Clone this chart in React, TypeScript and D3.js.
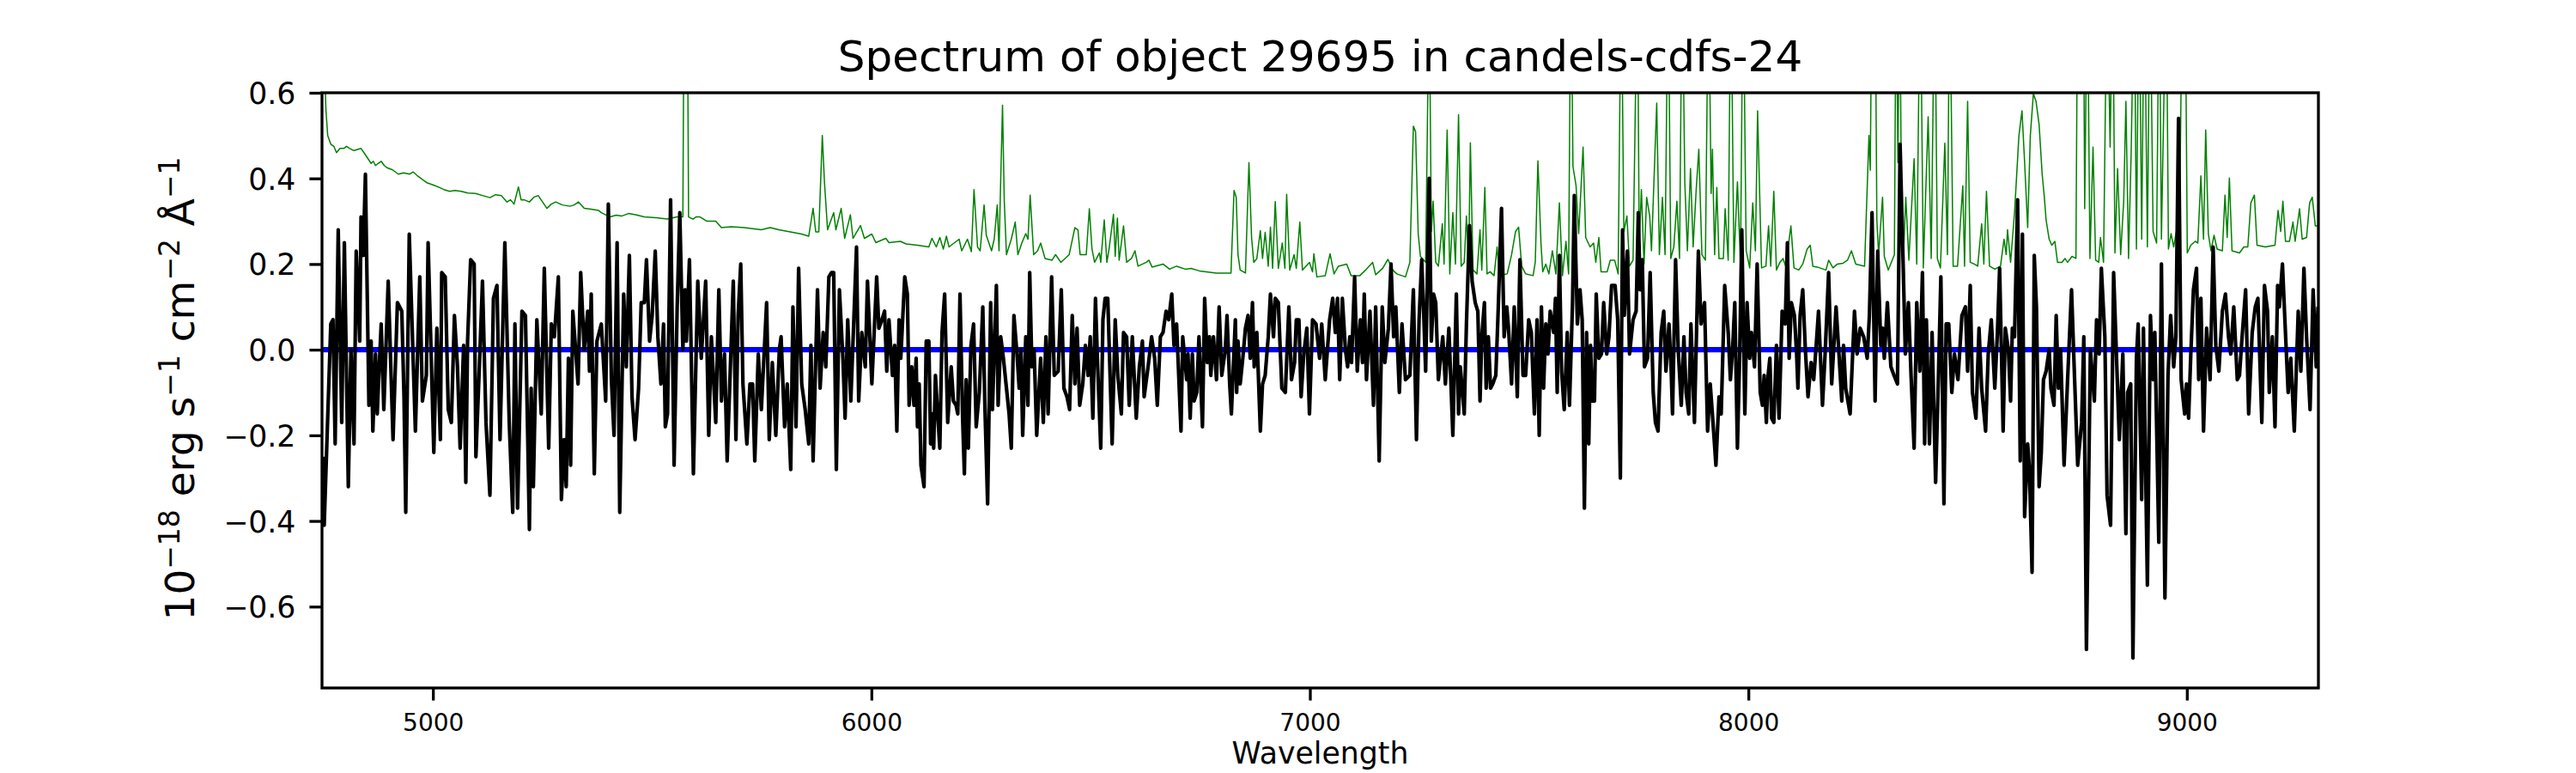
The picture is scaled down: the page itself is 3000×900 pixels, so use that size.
import { useEffect, useRef } from "react";
import * as d3 from "d3";

type Pt = [number, number];

// axis setup
const xDomain: [number, number] = [4747, 9300];
const yDomain: [number, number] = [-0.79, 0.6];
const xTicks = [5000, 6000, 7000, 8000, 9000];
const yTicks = [-0.6, -0.4, -0.2, 0.0, 0.2, 0.4, 0.6];

// object spectrum (black), wavelength in Angstrom, flux in 1e-18 erg/s/cm2/A
const fluxA: Pt[] = [
  [4749, -0.25], [4752, -0.41], [4767, 0.06], [4772, 0.07], [4777, -0.22], [4784, 0.28], [4792, -0.17], [4798, 0.25],
  [4807, -0.32], [4813, 0.0], [4820, -0.22], [4825, 0.23], [4833, 0.02], [4836, 0.31], [4841, 0.22], [4846, 0.41],
  [4854, -0.13], [4859, 0.02], [4863, -0.19], [4869, -0.01], [4873, -0.15], [4877, -0.05], [4882, 0.06], [4888, -0.14],
  [4898, 0.16], [4909, -0.21], [4919, 0.11], [4929, 0.09], [4934, -0.11], [4938, -0.38], [4946, 0.27], [4960, -0.19],
  [4970, 0.17], [4976, -0.12], [4985, -0.06], [4989, 0.25], [5002, -0.24], [5009, 0.05], [5017, -0.21], [5020, 0.18],
  [5028, 0.17], [5035, -0.14], [5042, -0.17], [5049, 0.08], [5056, -0.04], [5062, -0.23], [5070, 0.01], [5075, -0.31],
  [5079, 0.02], [5086, 0.21], [5094, 0.2], [5098, -0.25], [5107, -0.01], [5113, 0.16], [5121, -0.17], [5130, -0.34],
  [5138, 0.12], [5146, 0.15], [5153, -0.21], [5164, 0.25], [5174, -0.17], [5182, -0.38], [5187, 0.06], [5193, -0.37],
  [5203, 0.09], [5211, 0.08], [5220, -0.42], [5224, -0.09], [5229, -0.32], [5237, 0.07], [5247, -0.15], [5254, 0.19],
  [5264, -0.23], [5270, 0.06], [5277, 0.03], [5286, 0.17], [5293, -0.35], [5299, -0.21], [5304, -0.32], [5309, -0.02],
  [5314, -0.27], [5319, 0.09], [5331, -0.08], [5337, 0.18], [5345, 0.0], [5353, 0.09], [5357, -0.05], [5361, 0.13],
  [5368, -0.29], [5374, 0.02],
];

const fluxB: Pt[] = [
  [5384, 0.06], [5394, -0.12], [5400, 0.34], [5407, -0.07], [5413, -0.2], [5420, 0.25], [5426, -0.38], [5435, 0.13],
  [5441, -0.04], [5448, 0.22], [5454, -0.11], [5461, -0.21], [5469, -0.09], [5475, 0.11], [5482, 0.11], [5487, 0.21],
  [5494, 0.02], [5500, 0.08], [5507, 0.23], [5513, 0.03], [5520, -0.08], [5526, 0.06], [5530, -0.18], [5535, -0.15],
  [5542, 0.35], [5550, -0.27], [5557, 0.1], [5563, 0.32], [5570, 0.0], [5575, 0.14], [5578, 0.02], [5585, 0.21],
  [5594, -0.29], [5604, 0.16], [5612, -0.02], [5622, 0.16], [5629, -0.2], [5635, 0.03], [5645, -0.17], [5652, 0.14],
  [5658, -0.12], [5665, -0.01], [5671, -0.26], [5685, 0.16], [5691, -0.21], [5696, 0.08], [5702, 0.2], [5707, -0.08],
  [5716, -0.22], [5723, -0.08], [5729, -0.08], [5734, -0.26], [5742, -0.01], [5749, -0.14], [5761, 0.11], [5767, -0.21],
  [5774, -0.03], [5782, -0.2], [5790, 0.0], [5794, 0.03], [5802, -0.18], [5808, -0.08], [5816, -0.28], [5821, 0.1],
  [5828, -0.18], [5834, 0.19], [5841, -0.08], [5849, -0.14], [5857, -0.22], [5862, 0.01], [5867, -0.26], [5877, 0.14],
  [5883, -0.09], [5890, 0.04], [5896, -0.04], [5903, 0.17], [5909, 0.18], [5914, 0.18], [5920, -0.28], [5927, 0.14],
  [5935, -0.02], [5940, -0.16], [5946, 0.07], [5953, -0.12], [5966, 0.24], [5971, -0.12], [5978, 0.04], [5986, -0.04],
  [5991, 0.16], [6001, -0.08], [6012, 0.17], [6017, 0.05], [6024, 0.07], [6030, 0.09], [6035, -0.05],
];

const fluxC: Pt[] = [
  [6040, 0.07], [6048, -0.06], [6053, 0.01], [6058, -0.19], [6063, 0.07], [6067, -0.02], [6076, 0.17], [6082, 0.13],
  [6086, -0.13], [6092, -0.04], [6097, -0.13], [6102, -0.02], [6105, -0.18], [6109, -0.08], [6113, -0.27], [6120, -0.32],
  [6125, 0.02], [6131, 0.02], [6135, -0.22], [6139, -0.15], [6142, -0.23], [6146, -0.06], [6151, -0.15], [6156, -0.23],
  [6161, 0.04], [6167, 0.13], [6174, -0.17], [6182, -0.04], [6187, -0.12], [6193, -0.13], [6197, -0.15], [6202, 0.13],
  [6208, -0.16], [6212, -0.29], [6216, -0.07], [6221, -0.23], [6227, 0.01], [6233, 0.06], [6239, -0.18], [6246, -0.1],
  [6254, 0.1], [6259, -0.14], [6265, -0.36], [6272, 0.11], [6276, -0.14], [6285, 0.15], [6289, -0.13], [6295, 0.03],
  [6301, -0.02], [6308, -0.09], [6314, -0.15], [6319, -0.23], [6325, 0.08], [6332, -0.01], [6337, -0.09], [6341, 0.0],
  [6345, -0.2], [6352, 0.03], [6357, -0.13], [6361, 0.18], [6366, -0.04], [6371, 0.0], [6377, -0.2], [6386, -0.02],
  [6392, -0.17], [6398, 0.03], [6403, -0.15], [6411, 0.17], [6417, -0.06], [6426, -0.05], [6433, 0.14], [6439, -0.09],
  [6446, -0.11], [6452, -0.14], [6458, 0.08], [6464, -0.08], [6469, 0.05], [6475, -0.13], [6482, -0.08], [6488, 0.01],
  [6494, -0.06], [6499, 0.03], [6505, -0.16], [6511, 0.12], [6516, -0.04], [6523, -0.23], [6528, 0.07], [6533, 0.12],
  [6539, 0.12], [6549, -0.22], [6556, 0.07], [6562, -0.06], [6570, -0.15], [6575, 0.04], [6582, 0.03], [6588, -0.13],
  [6595, 0.03], [6604, -0.16], [6611, -0.04], [6618, 0.02], [6622, -0.11], [6631, -0.04], [6639, 0.03], [6646, -0.02],
  [6652, -0.13], [6659, 0.03], [6665, 0.04], [6672, 0.09], [6678, 0.07], [6685, 0.13], [6690, 0.01],
];

const fluxD: Pt[] = [
  [6696, 0.06], [6706, -0.19], [6710, 0.03], [6719, -0.07], [6722, -0.01], [6727, -0.16], [6732, -0.01], [6736, -0.12],
  [6742, -0.1], [6747, 0.03], [6755, -0.18], [6760, 0.12], [6766, -0.03], [6771, 0.03], [6774, -0.06], [6780, 0.03],
  [6787, -0.07], [6793, 0.1], [6799, -0.06], [6807, 0.0], [6811, 0.08], [6817, -0.08], [6821, -0.15], [6827, 0.0],
  [6830, 0.07], [6833, -0.1], [6836, 0.02], [6841, -0.08], [6847, -0.02], [6853, 0.05], [6859, 0.08], [6864, -0.02],
  [6869, 0.11], [6873, -0.04], [6879, 0.04], [6887, -0.19], [6892, -0.08], [6898, -0.06], [6905, 0.03], [6910, 0.13],
  [6917, 0.03], [6921, 0.12], [6928, 0.11], [6936, -0.09], [6944, -0.1], [6952, 0.1], [6958, -0.07], [6965, -0.03],
  [6969, 0.07], [6975, 0.07], [6980, -0.11], [6986, -0.01], [6993, 0.05], [6999, -0.15], [7006, 0.07], [7014, 0.06],
  [7022, -0.02], [7027, 0.06], [7035, -0.07], [7045, 0.07], [7052, 0.12], [7058, 0.04], [7063, 0.12], [7068, -0.07],
  [7074, 0.12], [7081, 0.0], [7086, -0.04], [7091, 0.03], [7095, -0.03], [7102, 0.17], [7108, -0.05], [7115, 0.07],
  [7120, -0.03], [7124, 0.13], [7129, -0.07], [7137, 0.09], [7145, -0.13], [7150, 0.1], [7158, -0.26], [7165, 0.1],
  [7171, -0.03], [7179, 0.05], [7185, 0.2], [7191, 0.03], [7196, 0.1], [7204, -0.1], [7210, 0.06], [7218, -0.07],
  [7228, -0.06], [7236, 0.14], [7243, -0.21], [7249, 0.07], [7255, 0.21], [7259, 0.1], [7264, -0.05], [7272, 0.4],
  [7277, 0.02], [7282, 0.13], [7287, 0.11], [7293, -0.07], [7303, 0.03], [7309, -0.08], [7317, 0.05], [7326, -0.2],
  [7334, 0.13], [7339, -0.15], [7343, -0.04], [7349, -0.11],
];

const fluxE: Pt[] = [
  [7352, -0.15], [7357, 0.06], [7364, 0.29], [7370, 0.16], [7377, 0.11], [7383, 0.09], [7388, -0.12], [7392, 0.03],
  [7398, 0.11], [7402, -0.09], [7407, 0.03], [7412, -0.09], [7417, -0.08], [7424, -0.06], [7429, 0.08], [7437, 0.33],
  [7443, 0.03], [7449, 0.1], [7453, 0.05], [7460, -0.08], [7466, 0.1], [7473, -0.11], [7479, 0.21], [7486, -0.06],
  [7492, -0.06], [7499, 0.07], [7505, 0.04], [7512, -0.15], [7518, 0.07], [7523, -0.2], [7528, 0.1], [7533, -0.09],
  [7538, 0.06], [7543, -0.01], [7548, 0.09], [7556, 0.04], [7560, 0.12], [7564, -0.1], [7569, 0.22], [7574, -0.05],
  [7580, -0.14], [7587, 0.04], [7592, -0.13], [7599, 0.11], [7603, 0.36], [7610, 0.06], [7616, 0.14], [7621, 0.07],
  [7626, -0.37], [7631, 0.04], [7636, -0.22], [7640, 0.01], [7644, -0.12], [7649, -0.12], [7653, 0.13], [7659, -0.02],
  [7665, -0.01], [7670, 0.11], [7677, -0.01], [7682, 0.03], [7688, 0.15], [7696, 0.15], [7702, 0.07], [7708, -0.3],
  [7713, 0.28], [7717, 0.08], [7724, 0.23], [7729, -0.01], [7737, 0.07], [7744, 0.09], [7749, 0.32], [7753, 0.14],
  [7758, 0.21], [7763, -0.04], [7770, -0.02], [7776, 0.18], [7783, -0.1], [7788, -0.17], [7794, -0.19], [7801, 0.04],
  [7807, 0.09], [7812, -0.05], [7819, 0.06], [7824, -0.05], [7827, -0.15], [7834, 0.21], [7840, 0.0], [7847, -0.13],
  [7853, 0.03], [7858, -0.1], [7864, -0.15], [7869, 0.06], [7877, -0.17], [7886, 0.23], [7892, 0.06], [7900, 0.11],
  [7907, -0.19], [7913, -0.08], [7920, -0.18], [7926, -0.27], [7933, -0.11], [7938, -0.15], [7946, 0.15], [7954, 0.04],
  [7959, -0.07], [7964, 0.0], [7969, 0.11], [7975, -0.23], [7980, -0.02], [7985, 0.28], [7992, -0.15], [7997, 0.11],
  [8003, -0.02],
];

const fluxF: Pt[] = [
  [8007, 0.04], [8014, -0.04], [8020, 0.2], [8027, -0.1], [8032, -0.13], [8036, -0.06], [8041, -0.17], [8045, -0.06],
  [8049, -0.02], [8053, -0.16], [8058, -0.17], [8064, 0.01], [8070, -0.16], [8077, 0.09], [8084, 0.06], [8089, 0.25],
  [8093, -0.02], [8098, 0.11], [8105, 0.08], [8110, -0.01], [8113, -0.09], [8118, 0.08], [8124, 0.14], [8130, 0.0],
  [8136, -0.11], [8143, -0.03], [8149, -0.07], [8156, 0.03], [8160, 0.09], [8169, -0.13], [8175, -0.01], [8183, 0.18],
  [8190, -0.08], [8200, 0.1], [8206, 0.0], [8213, -0.12], [8217, 0.01], [8222, -0.09], [8232, -0.15], [8242, 0.09],
  [8248, -0.01], [8255, 0.05], [8263, 0.03], [8271, -0.02], [8276, 0.08], [8282, 0.32], [8289, -0.12], [8295, 0.23],
  [8302, 0.01], [8306, 0.05], [8310, -0.02], [8317, 0.11], [8325, -0.04], [8332, -0.06], [8340, -0.08], [8346, 0.48],
  [8353, 0.2], [8358, -0.01], [8365, 0.11], [8371, -0.06], [8378, -0.23], [8384, 0.11], [8391, -0.05], [8397, 0.18],
  [8402, -0.22], [8406, 0.07], [8413, -0.22], [8419, 0.04], [8427, -0.31], [8433, -0.08], [8439, 0.17], [8446, -0.36],
  [8451, 0.06], [8457, 0.06], [8464, -0.1], [8470, -0.01], [8478, -0.07], [8487, 0.08], [8495, 0.1], [8500, -0.05],
  [8506, 0.15], [8511, -0.1], [8519, -0.16], [8526, 0.05], [8532, -0.09], [8541, -0.19], [8547, -0.01], [8554, 0.07],
  [8562, -0.09], [8568, 0.04], [8573, 0.19], [8581, -0.19], [8586, 0.05], [8593, 0.0], [8598, -0.12], [8602, 0.05],
  [8607, 0.03], [8614, 0.35], [8620, -0.26], [8625, 0.27], [8630, -0.39], [8637, -0.22], [8641, -0.28], [8647, -0.52],
  [8652, 0.22], [8657, 0.1],
];

const fluxG: Pt[] = [
  [8663, -0.32], [8668, -0.24], [8673, -0.07], [8679, -0.05], [8686, 0.0], [8690, -0.09], [8697, -0.13], [8702, 0.08],
  [8707, -0.09], [8712, 0.0], [8720, -0.27], [8728, -0.07], [8737, 0.14], [8743, -0.04], [8751, -0.27], [8760, -0.17],
  [8765, 0.03], [8771, -0.7], [8780, 0.0], [8789, -0.12], [8794, 0.07], [8800, -0.01], [8805, 0.19], [8813, 0.03],
  [8818, -0.34], [8826, -0.41], [8833, 0.18], [8846, -0.21], [8854, -0.01], [8861, -0.43], [8865, -0.1], [8872, -0.08],
  [8877, -0.72], [8885, -0.02], [8889, 0.06], [8897, -0.35], [8901, 0.05], [8910, -0.55], [8917, 0.08], [8923, -0.07],
  [8927, 0.04], [8936, -0.45], [8942, 0.2], [8950, -0.58], [8957, -0.06], [8963, 0.08], [8970, -0.04], [8975, 0.03],
  [8981, 0.54], [8987, -0.07], [8995, -0.15], [8999, -0.08], [9004, -0.16], [9009, -0.01], [9015, 0.14], [9022, 0.19],
  [9027, -0.07], [9032, 0.12], [9038, -0.19], [9045, 0.05], [9053, -0.07], [9060, 0.24], [9066, 0.01], [9073, -0.05],
  [9081, 0.09], [9088, 0.13], [9095, 0.03], [9100, -0.01], [9107, 0.1], [9115, -0.07], [9120, -0.06], [9126, 0.03],
  [9134, 0.14], [9141, -0.15], [9149, 0.04], [9156, 0.1], [9162, 0.12], [9171, -0.17], [9177, 0.15], [9184, 0.09],
  [9188, -0.1], [9195, 0.03], [9201, -0.18], [9207, 0.15], [9211, 0.1], [9218, 0.2], [9224, 0.06], [9231, -0.1],
  [9237, -0.02], [9245, -0.19], [9254, 0.09], [9260, -0.05], [9267, 0.19], [9273, 0.03], [9281, -0.14], [9288, 0.14],
  [9295, -0.04], [9299, 0.1],
];

// noise / sky spectrum (green)
const sigmaA: Pt[] = [
  [4748, 0.75], [4754, 0.62], [4756, 0.56], [4760, 0.5], [4767, 0.48], [4774, 0.475], [4780, 0.46], [4788, 0.47],
  [4797, 0.47], [4803, 0.475], [4810, 0.47], [4820, 0.465], [4836, 0.47], [4846, 0.455], [4859, 0.435], [4864, 0.44],
  [4869, 0.43], [4875, 0.435], [4882, 0.44], [4889, 0.43], [4895, 0.425], [4908, 0.42], [4921, 0.41], [4933, 0.413],
  [4947, 0.41], [4955, 0.415], [4966, 0.405], [4975, 0.398], [4986, 0.39], [5000, 0.385], [5012, 0.38], [5025, 0.374],
  [5038, 0.37], [5050, 0.372], [5064, 0.37], [5080, 0.366], [5097, 0.365], [5113, 0.36], [5130, 0.355], [5143, 0.362],
  [5156, 0.36], [5169, 0.345], [5177, 0.35], [5185, 0.34], [5195, 0.38], [5201, 0.35], [5208, 0.35], [5220, 0.345],
  [5230, 0.356], [5240, 0.36], [5250, 0.345], [5260, 0.33], [5270, 0.34], [5280, 0.345], [5295, 0.338], [5312, 0.335],
  [5322, 0.338], [5332, 0.345], [5345, 0.33], [5360, 0.328], [5378, 0.325],
];

const sigmaB: Pt[] = [
  [5384, 0.32], [5404, 0.31], [5418, 0.314], [5430, 0.312], [5446, 0.318], [5462, 0.315], [5482, 0.31], [5510, 0.308],
  [5534, 0.305], [5557, 0.31], [5570, 0.31], [5573, 0.9], [5580, 0.9], [5583, 0.31], [5593, 0.305], [5600, 0.31],
  [5609, 0.31], [5625, 0.3], [5645, 0.3], [5658, 0.285], [5680, 0.287], [5710, 0.285], [5749, 0.28], [5769, 0.285],
  [5789, 0.28], [5841, 0.27], [5857, 0.265], [5867, 0.33], [5873, 0.275], [5880, 0.275], [5888, 0.5], [5893, 0.39],
  [5900, 0.28], [5914, 0.32], [5919, 0.28], [5931, 0.33], [5939, 0.26], [5952, 0.315], [5958, 0.26], [5975, 0.29],
  [5984, 0.26], [6001, 0.27], [6010, 0.25], [6033, 0.26],
];

const sigmaC: Pt[] = [
  [6040, 0.25], [6066, 0.253], [6079, 0.247], [6105, 0.244], [6131, 0.24], [6138, 0.26], [6148, 0.24], [6156, 0.262],
  [6164, 0.235], [6171, 0.265], [6177, 0.24], [6200, 0.258], [6206, 0.231], [6219, 0.258], [6228, 0.229], [6234, 0.374],
  [6242, 0.24], [6248, 0.231], [6257, 0.338], [6262, 0.267], [6268, 0.249], [6274, 0.231], [6280, 0.258], [6287, 0.338],
  [6291, 0.231], [6299, 0.571], [6303, 0.347], [6308, 0.222], [6319, 0.258], [6328, 0.298], [6334, 0.222], [6343, 0.249],
  [6352, 0.271], [6357, 0.258], [6362, 0.361], [6370, 0.222], [6379, 0.231], [6386, 0.249], [6396, 0.213], [6412, 0.209],
  [6420, 0.222], [6432, 0.204], [6451, 0.222], [6464, 0.285], [6471, 0.28], [6476, 0.222], [6490, 0.222], [6497, 0.329],
  [6503, 0.235], [6509, 0.204], [6520, 0.226], [6523, 0.204], [6531, 0.303], [6537, 0.204], [6542, 0.235], [6552, 0.316],
  [6556, 0.218], [6561, 0.307], [6565, 0.209], [6575, 0.289], [6582, 0.204], [6593, 0.213], [6601, 0.231], [6608, 0.195],
  [6627, 0.204], [6633, 0.209], [6640, 0.193], [6665, 0.2], [6680, 0.188],
];

const sigmaD: Pt[] = [
  [6696, 0.195], [6716, 0.188], [6729, 0.19], [6748, 0.184], [6787, 0.179], [6820, 0.179], [6827, 0.372], [6832, 0.356],
  [6836, 0.222], [6841, 0.186], [6853, 0.179], [6861, 0.437], [6867, 0.262], [6872, 0.204], [6879, 0.213], [6887, 0.278],
  [6892, 0.213], [6898, 0.274], [6905, 0.195], [6910, 0.286], [6915, 0.19], [6921, 0.346], [6928, 0.19], [6937, 0.249],
  [6943, 0.19], [6947, 0.363], [6954, 0.186], [6964, 0.222], [6969, 0.19], [6977, 0.298], [6983, 0.186], [6999, 0.204],
  [7006, 0.182], [7009, 0.224], [7016, 0.17], [7035, 0.173], [7046, 0.224], [7055, 0.177], [7065, 0.195], [7084, 0.2],
  [7094, 0.173], [7114, 0.173], [7127, 0.186], [7143, 0.204], [7150, 0.175], [7166, 0.19], [7178, 0.211], [7189, 0.186],
  [7198, 0.177], [7218, 0.17], [7228, 0.204], [7236, 0.522], [7241, 0.509], [7247, 0.271], [7252, 0.218], [7264, 0.204],
  [7272, 0.85], [7277, 0.276], [7281, 0.347], [7287, 0.204], [7293, 0.195], [7302, 0.294], [7306, 0.2], [7313, 0.513],
  [7319, 0.177], [7326, 0.32], [7332, 0.2], [7339, 0.549], [7345, 0.195],
];

const sigmaE: Pt[] = [
  [7352, 0.204], [7357, 0.312], [7362, 0.195], [7366, 0.483], [7372, 0.186], [7381, 0.177], [7388, 0.28], [7392, 0.186],
  [7399, 0.379], [7404, 0.177], [7411, 0.182], [7420, 0.173], [7427, 0.24], [7432, 0.173], [7450, 0.177], [7460, 0.222],
  [7469, 0.276], [7476, 0.286], [7483, 0.195], [7492, 0.177], [7509, 0.173], [7514, 0.204], [7520, 0.441], [7527, 0.249],
  [7531, 0.182], [7538, 0.2], [7545, 0.177], [7553, 0.231], [7561, 0.177], [7569, 0.343], [7576, 0.173], [7584, 0.253],
  [7590, 0.177], [7595, 0.9], [7600, 0.428], [7607, 0.383], [7613, 0.271], [7623, 0.473], [7629, 0.262], [7639, 0.24],
  [7647, 0.249], [7652, 0.204], [7659, 0.262], [7664, 0.182], [7678, 0.182], [7685, 0.209], [7695, 0.209], [7703, 0.177],
  [7710, 0.9], [7716, 0.276], [7723, 0.312], [7729, 0.195], [7737, 0.209], [7747, 0.9], [7751, 0.244], [7756, 0.374],
  [7762, 0.2], [7768, 0.356], [7775, 0.312], [7779, 0.231], [7791, 0.576], [7797, 0.222], [7804, 0.356], [7810, 0.222],
  [7817, 0.9], [7823, 0.213], [7830, 0.24], [7837, 0.347], [7843, 0.213], [7849, 0.9], [7855, 0.392], [7861, 0.231],
  [7868, 0.423], [7874, 0.24], [7881, 0.374], [7887, 0.468], [7894, 0.222], [7902, 0.209], [7909, 0.9], [7915, 0.365],
  [7918, 0.468], [7923, 0.222], [7928, 0.379], [7933, 0.213], [7943, 0.213], [7947, 0.329], [7954, 0.209], [7960, 0.9],
  [7967, 0.204], [7975, 0.392], [7982, 0.2], [7988, 0.9], [7995, 0.231], [8003, 0.191], [8010, 0.343],
];

const sigmaF: Pt[] = [
  [8016, 0.231], [8021, 0.558], [8030, 0.191], [8040, 0.195], [8046, 0.289], [8051, 0.195], [8058, 0.37], [8064, 0.186],
  [8072, 0.204], [8079, 0.213], [8085, 0.195], [8097, 0.289], [8104, 0.191], [8115, 0.186], [8124, 0.2], [8134, 0.235],
  [8141, 0.244], [8147, 0.195], [8157, 0.193], [8177, 0.186], [8183, 0.209], [8193, 0.191], [8203, 0.2], [8216, 0.202],
  [8226, 0.209], [8235, 0.231], [8245, 0.2], [8265, 0.195], [8275, 0.5], [8278, 0.419], [8282, 0.9], [8286, 0.7],
  [8289, 0.9], [8293, 0.303], [8297, 0.222], [8306, 0.356], [8310, 0.218], [8319, 0.186], [8333, 0.222], [8337, 0.9],
  [8341, 0.437], [8345, 0.9], [8350, 0.222], [8353, 0.204], [8359, 0.356], [8366, 0.209], [8378, 0.446], [8384, 0.2],
  [8392, 0.9], [8399, 0.191], [8410, 0.544], [8417, 0.213], [8425, 0.9], [8431, 0.213], [8438, 0.191], [8448, 0.482],
  [8454, 0.222], [8459, 0.9], [8467, 0.195], [8477, 0.195], [8489, 0.383], [8493, 0.195], [8500, 0.58], [8506, 0.204],
  [8515, 0.2], [8523, 0.195], [8532, 0.294], [8537, 0.2], [8543, 0.37], [8550, 0.195], [8562, 0.188], [8575, 0.195],
  [8583, 0.258], [8588, 0.222], [8591, 0.28], [8598, 0.204], [8607, 0.32], [8617, 0.5], [8624, 0.558], [8630, 0.437],
  [8637, 0.285], [8643, 0.5], [8650, 0.598], [8656, 0.58], [8663, 0.526],
];

const sigmaG: Pt[] = [
  [8670, 0.41], [8675, 0.356], [8679, 0.303], [8686, 0.258], [8692, 0.244], [8699, 0.253], [8705, 0.204], [8715, 0.204],
  [8722, 0.213], [8728, 0.204], [8738, 0.218], [8747, 0.213], [8751, 0.9], [8758, 0.598], [8764, 0.9], [8767, 0.329],
  [8773, 0.9], [8779, 0.213], [8786, 0.473], [8792, 0.209], [8799, 0.204], [8803, 0.262], [8810, 0.204], [8818, 0.9],
  [8825, 0.473], [8831, 0.9], [8836, 0.226], [8842, 0.423], [8849, 0.222], [8856, 0.347], [8861, 0.58], [8867, 0.213],
  [8873, 0.459], [8880, 0.9], [8885, 0.235], [8891, 0.9], [8897, 0.258], [8903, 0.9], [8910, 0.24], [8916, 0.9],
  [8923, 0.276], [8931, 0.249], [8937, 0.9], [8942, 0.258], [8953, 0.9], [8958, 0.235], [8964, 0.271], [8970, 0.24],
  [8976, 0.276], [8983, 0.267], [8990, 0.9], [8996, 0.9], [9001, 0.226], [9009, 0.244], [9019, 0.253], [9025, 0.249],
  [9032, 0.406], [9038, 0.258], [9043, 0.513], [9049, 0.271], [9055, 0.231], [9062, 0.267], [9069, 0.235], [9081, 0.231],
  [9087, 0.361], [9092, 0.262], [9097, 0.401], [9103, 0.231], [9120, 0.226], [9130, 0.24], [9139, 0.24], [9146, 0.343],
  [9154, 0.361], [9160, 0.244], [9179, 0.24], [9201, 0.244], [9208, 0.325], [9214, 0.276], [9219, 0.347], [9225, 0.253],
  [9234, 0.253], [9242, 0.298], [9247, 0.253], [9257, 0.329], [9263, 0.258], [9273, 0.262], [9280, 0.343], [9286, 0.356],
  [9293, 0.289], [9299, 0.289],
];

const flux = [...fluxA, ...fluxB, ...fluxC, ...fluxD, ...fluxE, ...fluxF, ...fluxG];
const sigma = [...sigmaA, ...sigmaB, ...sigmaC, ...sigmaD, ...sigmaE, ...sigmaF, ...sigmaG];
const zero: Pt[] = [[xDomain[0], 0], [xDomain[1], 0]];

const FONT = "DejaVu Sans, Verdana, sans-serif";

export default function App() {
  const svgRef = useRef<SVGSVGElement>(null);

  useEffect(() => {
    const svg = d3.select(svgRef.current);
    svg.selectAll("*").remove();

    const width = 3000;
    const height = 900;
    const left = 375;
    const right = 2700;
    const top = 108;
    const bottom = 801;

    const x = d3.scaleLinear().domain(xDomain).range([left, right]);
    const y = d3.scaleLinear().domain(yDomain).range([bottom, top]);

    svg.append("rect").attr("width", width).attr("height", height).attr("fill", "white");

    svg
      .append("defs")
      .append("clipPath")
      .attr("id", "plot-clip")
      .append("rect")
      .attr("x", left)
      .attr("y", top)
      .attr("width", right - left)
      .attr("height", bottom - top);

    const line = d3
      .line<Pt>()
      .x((d) => x(d[0]))
      .y((d) => y(d[1]));

    const plot = svg.append("g").attr("clip-path", "url(#plot-clip)");

    plot
      .append("path")
      .datum(sigma)
      .attr("fill", "none")
      .attr("stroke", "#008000")
      .attr("stroke-width", 1.5)
      .attr("stroke-linejoin", "round")
      .attr("d", line);

    plot
      .append("path")
      .datum(zero)
      .attr("fill", "none")
      .attr("stroke", "#0000ff")
      .attr("stroke-width", 6.2)
      .attr("d", line);

    plot
      .append("path")
      .datum(flux)
      .attr("fill", "none")
      .attr("stroke", "#000000")
      .attr("stroke-width", 4.2)
      .attr("stroke-linejoin", "round")
      .attr("d", line);

    // frame
    svg
      .append("rect")
      .attr("x", left)
      .attr("y", top)
      .attr("width", right - left)
      .attr("height", bottom - top)
      .attr("fill", "none")
      .attr("stroke", "black")
      .attr("stroke-width", 3.3);

    const xAxis = svg
      .append("g")
      .attr("transform", `translate(0, ${bottom})`)
      .call(
        d3
          .axisBottom(x)
          .tickValues(xTicks)
          .tickSize(14.6)
          .tickSizeOuter(0)
          .tickPadding(16)
          .tickFormat(d3.format("d"))
      );
    xAxis.select(".domain").remove();
    xAxis.selectAll("line").attr("stroke", "black").attr("stroke-width", 3.3);
    xAxis
      .selectAll("text")
      .attr("fill", "black")
      .style("font-family", FONT)
      .style("font-size", "28px");

    const yAxis = svg
      .append("g")
      .attr("transform", `translate(${left}, 0)`)
      .call(
        d3
          .axisLeft(y)
          .tickValues(yTicks)
          .tickSize(14.6)
          .tickSizeOuter(0)
          .tickPadding(16)
          .tickFormat(d3.format(".1f"))
      );
    yAxis.select(".domain").remove();
    yAxis.selectAll("line").attr("stroke", "black").attr("stroke-width", 3.3);
    yAxis
      .selectAll("text")
      .attr("fill", "black")
      .attr("dy", "0.36em")
      .style("font-family", FONT)
      .style("font-size", "34.7px");

    svg
      .append("text")
      .attr("x", (left + right) / 2)
      .attr("y", 83)
      .attr("text-anchor", "middle")
      .style("font-family", FONT)
      .style("font-size", "50px")
      .text("Spectrum of object 29695 in candels-cdfs-24");

    svg
      .append("text")
      .attr("x", (left + right) / 2)
      .attr("y", 889)
      .attr("text-anchor", "middle")
      .style("font-family", FONT)
      .style("font-size", "34.7px")
      .text("Wavelength");

    // y label with superscripts
    const base = 47;
    const sup = base * 0.7;
    const rise = base * 0.36;
    const ylab = svg
      .append("text")
      .attr("transform", `translate(226, ${(top + bottom) / 2 - 2}) rotate(-90)`)
      .attr("text-anchor", "middle")
      .style("font-family", FONT)
      .style("font-size", `${base}px`)
      .style("white-space", "pre");
    const parts: [string, boolean][] = [
      ["10", false],
      ["\u221218", true],
      [" erg s", false],
      ["\u22121", true],
      [" cm", false],
      ["\u22122", true],
      [" \u00c5", false],
      ["\u22121", true],
    ];
    let raised = false;
    parts.forEach(([t, isSup]) => {
      const span = ylab.append("tspan").text(t);
      if (isSup && !raised) {
        span.attr("dy", -rise).style("font-size", `${sup}px`);
        raised = true;
      } else if (isSup) {
        span.style("font-size", `${sup}px`);
      } else if (raised) {
        span.attr("dy", rise);
        raised = false;
      }
    });
  }, []);

  return (
    <svg
      ref={svgRef}
      width={3000}
      height={900}
      style={{ position: "absolute", left: 0, top: 0, display: "block" }}
    />
  );
}
